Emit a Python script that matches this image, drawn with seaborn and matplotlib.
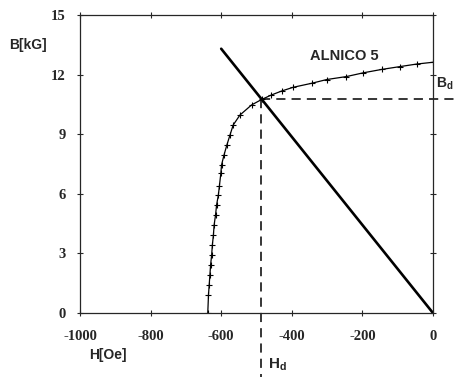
"""Demagnetization curve of ALNICO 5 with load line and operating point"""

import numpy as np
import pandas as pd
import matplotlib
matplotlib.use("Agg")
import matplotlib.pyplot as plt
import seaborn as sns

# demagnetization curve (second quadrant)
h_curve = [-638, -636, -634, -632, -630, -627, -625, -622, -620, -616, -613,
           -608, -605, -601, -599, -592, -584, -575, -566, -547, -514, -485,
           -458, -429, -396, -344, -301, -245, -197, -145, -94, -46, 0]
b_curve = [0.0, 0.91, 1.41, 1.91, 2.42, 2.92, 3.42, 3.93, 4.43, 4.93, 5.44,
           5.94, 6.4, 7.03, 7.45, 7.95, 8.45, 8.96, 9.46, 9.96, 10.47, 10.75,
           10.97, 11.17, 11.36, 11.56, 11.75, 11.9, 12.09, 12.26, 12.4, 12.53, 12.62]

# load line
h_load = [-600, 0]
b_load = [13.3, 0.0]

# operating point
h_d = -487
b_d = 10.78

x_ticks = [-1000, -800, -600, -400, -200, 0]
y_ticks = [0, 3, 6, 9, 12, 15]

sns.set_style("ticks")
plt.rcParams["axes.unicode_minus"] = False
plt.rcParams["mathtext.fontset"] = "custom"
plt.rcParams["mathtext.bf"] = "Liberation Sans:bold"
plt.rcParams["mathtext.rm"] = "Liberation Sans:bold"

fig = plt.figure(figsize=(4.54, 3.77), dpi=100)
ax = fig.add_axes([0.1762, 0.1698, 0.7775, 0.7905])

curve = pd.DataFrame({"H": h_curve, "B": b_curve})
load = pd.DataFrame({"H": h_load, "B": b_load})

sns.lineplot(data=curve, x="H", y="B", ax=ax, color="black", lw=0.9,
             marker="+", markersize=4.5, markeredgewidth=0.8,
             markeredgecolor="black", sort=True)
sns.lineplot(data=load, x="H", y="B", ax=ax, color="black", lw=1.9)

# dashed guides to the operating point, running past the axes
dash = dict(color="black", lw=1.1, dashes=(6, 4), clip_on=False)
ax.plot([h_d, h_d], [b_d, -3.3], **dash)
ax.plot([h_d, 60], [b_d, b_d], **dash)

ax.set_xlim(-1000, 0)
ax.set_ylim(0, 15)
ax.set_xticks(x_ticks)
ax.set_yticks(y_ticks)
ax.set_xlabel("")
ax.set_ylabel("")

for side in ["top", "right", "bottom", "left"]:
    ax.spines[side].set_visible(True)
    ax.spines[side].set_linewidth(0.9)

ax.tick_params(axis="both", which="both", direction="inout", length=5, width=0.8,
               top=True, right=True, labeltop=False, labelright=False)
ax.tick_params(axis="x", pad=10)
ax.tick_params(axis="y", pad=8)

for lab in ax.get_xticklabels() + ax.get_yticklabels():
    lab.set_fontfamily("Liberation Serif")
    lab.set_fontweight("bold")
    lab.set_fontsize(10.5)

sans = dict(family="Liberation Sans", weight="bold", fontsize=10)
fig.text(28 / 454, 1 - 45 / 377, "B[kG]", ha="center", va="center", **sans)
fig.text(108 / 454, 1 - 355 / 377, "H[Oe]", ha="center", va="center", **sans)
ax.text(-250, 12.95, "ALNICO 5", ha="center", va="center",
        family="Liberation Sans", weight="bold", fontsize=10.5)
fig.text(436 / 454, 1 - 84 / 377, r"$\mathbf{B}_\mathbf{d}$", ha="left", va="center",
         fontsize=10)
fig.text(268 / 454, 1 - 365 / 377, r"$\mathbf{H}_\mathbf{d}$", ha="left", va="center",
         fontsize=11)

plt.savefig("out.png", dpi=100)
